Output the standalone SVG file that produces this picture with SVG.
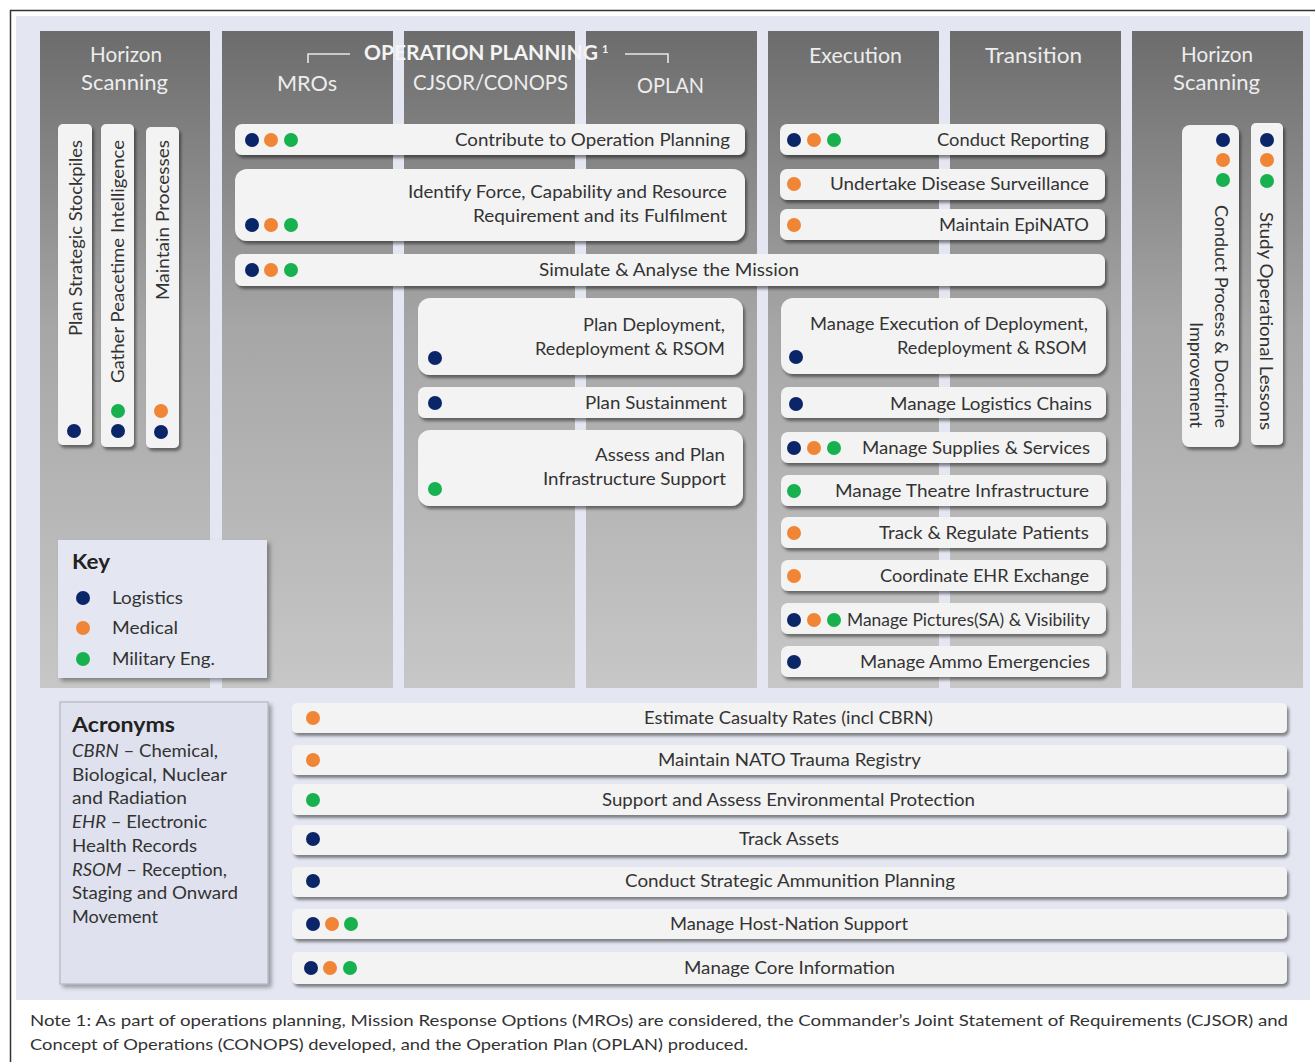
<svg xmlns="http://www.w3.org/2000/svg" width="1315" height="1062" viewBox="0 0 1315 1062">
<defs>
<linearGradient id="colg" x1="0" y1="0" x2="0" y2="1">
<stop offset="0" stop-color="#6c6c6c"/>
<stop offset="0.45" stop-color="#a6a6a6"/>
<stop offset="1" stop-color="#c7c7c7"/>
</linearGradient>
<filter id="sh" x="-10%" y="-20%" width="125%" height="160%">
<feDropShadow dx="2" dy="3" stdDeviation="1.8" flood-color="#000" flood-opacity="0.45"/>
</filter>
<filter id="sh2" x="-10%" y="-10%" width="125%" height="125%">
<feDropShadow dx="3" dy="3" stdDeviation="2" flood-color="#000" flood-opacity="0.35"/>
</filter>
</defs>
<style>
text{font-family:Lato,"Liberation Sans",sans-serif}
.col{fill:url(#colg)}
.hdr{font-size:21px;fill:#ededed}
.hb{font-size:20px;fill:#f4f4f4;font-weight:bold}
.n{fill:#f3f3f3;filter:url(#sh)}
.t{font-size:16.5px;fill:#333}
.k{font-size:17px;fill:#333}
.kh{font-size:20px;fill:#222;font-weight:bold}
.note{font-size:16px;fill:#333}
.dn{fill:#0b2668}
.do{fill:#f08535}
.dg{fill:#17b150}
.br{fill:none;stroke:#e6e6e6;stroke-width:1.6}
</style>
<rect x="0" y="0" width="1315" height="1062" fill="#ffffff"/>
<rect x="10.5" y="10.5" width="1320" height="1070" fill="none" stroke="#333" stroke-width="1.5"/>
<rect x="16" y="16" width="1294" height="984" fill="#e4e7f1"/>

<g id="columns">
<rect class="col" x="40" y="31" width="170" height="657"/>
<rect class="col" x="222" y="31" width="171" height="657"/>
<rect class="col" x="404" y="31" width="171" height="657"/>
<rect class="col" x="586" y="31" width="171" height="657"/>
<rect class="col" x="768" y="31" width="171" height="657"/>
<rect class="col" x="950" y="31" width="171" height="657"/>
<rect class="col" x="1132" y="31" width="171" height="657"/>
</g>

<g id="headers">
<text class="hdr" x="90" y="62" textLength="72" lengthAdjust="spacingAndGlyphs">Horizon</text>
<text class="hdr" x="81" y="90" textLength="87" lengthAdjust="spacingAndGlyphs">Scanning</text>
<text class="hdr" x="277" y="91" textLength="60" lengthAdjust="spacingAndGlyphs">MROs</text>
<text class="hdr" x="413" y="90" textLength="155" lengthAdjust="spacingAndGlyphs">CJSOR/CONOPS</text>
<text class="hdr" x="637" y="93" textLength="67" lengthAdjust="spacingAndGlyphs">OPLAN</text>
<text class="hdr" x="809" y="63" textLength="93" lengthAdjust="spacingAndGlyphs">Execution</text>
<text class="hdr" x="985" y="63" textLength="97" lengthAdjust="spacingAndGlyphs">Transition</text>
<text class="hdr" x="1181" y="62" textLength="72" lengthAdjust="spacingAndGlyphs">Horizon</text>
<text class="hdr" x="1173" y="90" textLength="87" lengthAdjust="spacingAndGlyphs">Scanning</text>
<text class="hb" x="364" y="60" textLength="234" lengthAdjust="spacingAndGlyphs">OPERATION PLANNING</text>
<text class="hb" x="602" y="53" style="font-size:11px">1</text>
<polyline class="br" points="308,63 308,54 350,54"/>
<polyline class="br" points="625,54 668,54 668,63"/>
</g>

<g id="connectors"></g>

<g id="n-stockpiles">
<rect class="n" x="58" y="124" width="34" height="321" rx="5"/>
<text class="t" transform="translate(81.5,336) rotate(-90)" textLength="196" lengthAdjust="spacingAndGlyphs">Plan Strategic Stockpiles</text>
<circle class="dn" cx="74" cy="431" r="7"/>
</g>
<g id="n-intelligence">
<rect class="n" x="101" y="124" width="33" height="323" rx="5"/>
<text class="t" transform="translate(124,383) rotate(-90)" textLength="243" lengthAdjust="spacingAndGlyphs">Gather Peacetime Intelligence</text>
<circle class="dg" cx="118" cy="411" r="7"/>
<circle class="dn" cx="118" cy="431" r="7"/>
</g>
<g id="n-processes">
<rect class="n" x="146" y="127" width="33" height="321" rx="5"/>
<text class="t" transform="translate(168.5,300) rotate(-90)" textLength="160" lengthAdjust="spacingAndGlyphs">Maintain Processes</text>
<circle class="do" cx="161" cy="411" r="7"/>
<circle class="dn" cx="161" cy="432" r="7"/>
</g>

<g id="n-contribute">
<rect class="n" x="235" y="124" width="510" height="31" rx="7"/>
<circle class="dn" cx="252" cy="140" r="7"/><circle class="do" cx="271" cy="140" r="7"/><circle class="dg" cx="291" cy="140" r="7"/>
<text class="t" x="455" y="146" textLength="275" lengthAdjust="spacingAndGlyphs">Contribute to Operation Planning</text>
</g>
<g id="n-identify">
<rect class="n" x="235" y="169" width="510" height="72" rx="12"/>
<circle class="dn" cx="252" cy="225" r="7"/><circle class="do" cx="271" cy="225" r="7"/><circle class="dg" cx="291" cy="225" r="7"/>
<text class="t" x="408" y="198" textLength="319" lengthAdjust="spacingAndGlyphs">Identify Force, Capability and Resource</text>
<text class="t" x="473" y="222" textLength="254" lengthAdjust="spacingAndGlyphs">Requirement  and its Fulfilment</text>
</g>
<g id="n-simulate">
<rect class="n" x="235" y="254" width="870" height="32" rx="7"/>
<circle class="dn" cx="252" cy="270" r="7"/><circle class="do" cx="271" cy="270" r="7"/><circle class="dg" cx="291" cy="270" r="7"/>
<text class="t" x="539" y="276" textLength="260" lengthAdjust="spacingAndGlyphs">Simulate &amp; Analyse the Mission</text>
</g>
<g id="n-plandeploy">
<rect class="n" x="418" y="298" width="325" height="77" rx="12"/>
<circle class="dn" cx="435" cy="358" r="7"/>
<text class="t" x="583" y="331" textLength="142" lengthAdjust="spacingAndGlyphs">Plan Deployment,</text>
<text class="t" x="535" y="355" textLength="190" lengthAdjust="spacingAndGlyphs">Redeployment  &amp; RSOM</text>
</g>
<g id="n-plansustain">
<rect class="n" x="418" y="387" width="325" height="31" rx="7"/>
<circle class="dn" cx="435" cy="403" r="7"/>
<text class="t" x="585" y="409" textLength="142" lengthAdjust="spacingAndGlyphs">Plan Sustainment</text>
</g>
<g id="n-assess">
<rect class="n" x="418" y="430" width="325" height="76" rx="12"/>
<circle class="dg" cx="435" cy="489" r="7"/>
<text class="t" x="595" y="461" textLength="130" lengthAdjust="spacingAndGlyphs">Assess and Plan</text>
<text class="t" x="543" y="485" textLength="183" lengthAdjust="spacingAndGlyphs">Infrastructure Support</text>
</g>

<g id="n-reporting">
<rect class="n" x="780" y="124" width="325" height="31" rx="7"/>
<circle class="dn" cx="794" cy="140" r="7"/><circle class="do" cx="814" cy="140" r="7"/><circle class="dg" cx="834" cy="140" r="7"/>
<text class="t" x="937" y="146" textLength="152" lengthAdjust="spacingAndGlyphs">Conduct Reporting</text>
</g>
<g id="n-disease">
<rect class="n" x="780" y="169" width="325" height="31" rx="7"/>
<circle class="do" cx="794" cy="184" r="7"/>
<text class="t" x="830" y="190" textLength="259" lengthAdjust="spacingAndGlyphs">Undertake Disease Surveillance</text>
</g>
<g id="n-epinato">
<rect class="n" x="780" y="209" width="325" height="31" rx="7"/>
<circle class="do" cx="794" cy="225" r="7"/>
<text class="t" x="939" y="231" textLength="150" lengthAdjust="spacingAndGlyphs">Maintain EpiNATO</text>
</g>
<g id="n-execdeploy">
<rect class="n" x="781" y="298" width="325" height="76" rx="12"/>
<circle class="dn" cx="796" cy="357" r="7"/>
<text class="t" x="810" y="330" textLength="278" lengthAdjust="spacingAndGlyphs">Manage Execution of Deployment,</text>
<text class="t" x="897" y="354" textLength="190" lengthAdjust="spacingAndGlyphs">Redeployment  &amp; RSOM</text>
</g>
<g id="n-logchains">
<rect class="n" x="781" y="387" width="325" height="31" rx="7"/>
<circle class="dn" cx="796" cy="404" r="7"/>
<text class="t" x="890" y="410" textLength="202" lengthAdjust="spacingAndGlyphs">Manage Logistics Chains</text>
</g>
<g id="n-supplies">
<rect class="n" x="781" y="432" width="325" height="31" rx="7"/>
<circle class="dn" cx="794" cy="448" r="7"/><circle class="do" cx="814" cy="448" r="7"/><circle class="dg" cx="834" cy="448" r="7"/>
<text class="t" x="862" y="454" textLength="228" lengthAdjust="spacingAndGlyphs">Manage Supplies &amp; Services</text>
</g>
<g id="n-theatre">
<rect class="n" x="781" y="475" width="325" height="31" rx="7"/>
<circle class="dg" cx="794" cy="491" r="7"/>
<text class="t" x="835" y="497" textLength="254" lengthAdjust="spacingAndGlyphs">Manage Theatre  Infrastructure</text>
</g>
<g id="n-patients">
<rect class="n" x="781" y="517" width="325" height="31" rx="7"/>
<circle class="do" cx="794" cy="533" r="7"/>
<text class="t" x="879" y="539" textLength="210" lengthAdjust="spacingAndGlyphs">Track &amp; Regulate  Patients</text>
</g>
<g id="n-ehr">
<rect class="n" x="781" y="560" width="325" height="31" rx="7"/>
<circle class="do" cx="794" cy="576" r="7"/>
<text class="t" x="880" y="582" textLength="209" lengthAdjust="spacingAndGlyphs">Coordinate EHR  Exchange</text>
</g>
<g id="n-pictures">
<rect class="n" x="781" y="603" width="325" height="31" rx="7"/>
<circle class="dn" cx="794" cy="620" r="7"/><circle class="do" cx="814" cy="620" r="7"/><circle class="dg" cx="834" cy="620" r="7"/>
<text class="t" x="847" y="626" textLength="243" lengthAdjust="spacingAndGlyphs">Manage Pictures(SA) &amp; Visibility</text>
</g>
<g id="n-ammo">
<rect class="n" x="781" y="646" width="325" height="31" rx="7"/>
<circle class="dn" cx="794" cy="662" r="7"/>
<text class="t" x="860" y="668" textLength="230" lengthAdjust="spacingAndGlyphs">Manage Ammo  Emergencies</text>
</g>

<g id="n-doctrine">
<rect class="n" x="1182" y="125" width="57" height="322" rx="8"/>
<circle class="dn" cx="1223" cy="140" r="7"/><circle class="do" cx="1223" cy="160" r="7"/><circle class="dg" cx="1223" cy="180" r="7"/>
<text class="t" transform="translate(1215,205) rotate(90)" textLength="223" lengthAdjust="spacingAndGlyphs">Conduct Process &amp; Doctrine</text>
<text class="t" transform="translate(1190,322) rotate(90)" textLength="106" lengthAdjust="spacingAndGlyphs">Improvement</text>
</g>
<g id="n-lessons">
<rect class="n" x="1251" y="123" width="32" height="322" rx="5"/>
<circle class="dn" cx="1267" cy="140" r="7"/><circle class="do" cx="1267" cy="160" r="7"/><circle class="dg" cx="1267" cy="181" r="7"/>
<text class="t" transform="translate(1259.5,212) rotate(90)" textLength="218" lengthAdjust="spacingAndGlyphs">Study Operational Lessons</text>
</g>

<g id="key">
<rect x="58" y="540" width="209" height="138" fill="#e4e7f1" filter="url(#sh2)"/>
<text class="kh" x="72" y="569" textLength="38" lengthAdjust="spacingAndGlyphs">Key</text>
<circle class="dn" cx="83" cy="598" r="7"/>
<circle class="do" cx="83" cy="628" r="7"/>
<circle class="dg" cx="83" cy="659" r="7"/>
<text class="k" x="112" y="604" textLength="71" lengthAdjust="spacingAndGlyphs">Logistics</text>
<text class="k" x="112" y="634" textLength="66" lengthAdjust="spacingAndGlyphs">Medical</text>
<text class="k" x="112" y="665" textLength="103" lengthAdjust="spacingAndGlyphs">Military Eng.</text>
</g>

<g id="acronyms">
<rect x="60" y="702" width="208" height="282" fill="#dfe2ee" stroke="#a9adba" stroke-width="1" filter="url(#sh2)"/>
<text class="kh" x="72" y="732" textLength="103" lengthAdjust="spacingAndGlyphs">Acronyms</text>
<text class="k" x="72" y="757" textLength="146" lengthAdjust="spacingAndGlyphs"><tspan font-style="italic">CBRN</tspan> – Chemical,</text>
<text class="k" x="72" y="781" textLength="155" lengthAdjust="spacingAndGlyphs">Biological, Nuclear</text>
<text class="k" x="72" y="804" textLength="115" lengthAdjust="spacingAndGlyphs">and Radiation</text>
<text class="k" x="72" y="828" textLength="135" lengthAdjust="spacingAndGlyphs"><tspan font-style="italic">EHR</tspan> – Electronic</text>
<text class="k" x="72" y="852" textLength="125" lengthAdjust="spacingAndGlyphs">Health Records</text>
<text class="k" x="72" y="876" textLength="155" lengthAdjust="spacingAndGlyphs"><tspan font-style="italic">RSOM</tspan> – Reception,</text>
<text class="k" x="72" y="899" textLength="166" lengthAdjust="spacingAndGlyphs">Staging and Onward</text>
<text class="k" x="72" y="923" textLength="86" lengthAdjust="spacingAndGlyphs">Movement</text>
</g>

<g id="n-casualty">
<rect class="n" x="292" y="703" width="995" height="30" rx="5"/>
<circle class="do" cx="313" cy="718" r="7"/>
<text class="t" x="644" y="724" textLength="289" lengthAdjust="spacingAndGlyphs">Estimate Casualty Rates (incl CBRN)</text>
</g>
<g id="n-trauma">
<rect class="n" x="292" y="745" width="995" height="30" rx="5"/>
<circle class="do" cx="313" cy="760" r="7"/>
<text class="t" x="658" y="766" textLength="263" lengthAdjust="spacingAndGlyphs">Maintain NATO Trauma Registry</text>
</g>
<g id="n-environment">
<rect class="n" x="292" y="784" width="995" height="31" rx="5"/>
<circle class="dg" cx="313" cy="800" r="7"/>
<text class="t" x="602" y="806" textLength="373" lengthAdjust="spacingAndGlyphs">Support and Assess Environmental Protection</text>
</g>
<g id="n-assets">
<rect class="n" x="292" y="825" width="995" height="30" rx="5"/>
<circle class="dn" cx="313" cy="839" r="7"/>
<text class="t" x="739" y="845" textLength="100" lengthAdjust="spacingAndGlyphs">Track Assets</text>
</g>
<g id="n-ammoplan">
<rect class="n" x="292" y="867" width="995" height="30" rx="5"/>
<circle class="dn" cx="313" cy="881" r="7"/>
<text class="t" x="625" y="887" textLength="330" lengthAdjust="spacingAndGlyphs">Conduct Strategic Ammunition  Planning</text>
</g>
<g id="n-hostnation">
<rect class="n" x="292" y="909" width="995" height="30" rx="5"/>
<circle class="dn" cx="313" cy="924" r="7"/><circle class="do" cx="332" cy="924" r="7"/><circle class="dg" cx="351" cy="924" r="7"/>
<text class="t" x="670" y="930" textLength="238" lengthAdjust="spacingAndGlyphs">Manage Host-Nation Support</text>
</g>
<g id="n-coreinfo">
<rect class="n" x="292" y="952" width="995" height="32" rx="5"/>
<circle class="dn" cx="311" cy="968" r="7"/><circle class="do" cx="330" cy="968" r="7"/><circle class="dg" cx="350" cy="968" r="7"/>
<text class="t" x="684" y="974" textLength="211" lengthAdjust="spacingAndGlyphs">Manage Core Information</text>
</g>

<g id="note">
<text class="note" x="30" y="1026" textLength="1258" lengthAdjust="spacingAndGlyphs">Note  1: As part of operations planning, Mission Response Options (MROs) are considered, the Commander’s Joint Statement  of Requirements (CJSOR) and</text>
<text class="note" x="30" y="1050" textLength="718" lengthAdjust="spacingAndGlyphs">Concept of Operations (CONOPS) developed, and the Operation Plan (OPLAN) produced.</text>
</g>
</svg>
